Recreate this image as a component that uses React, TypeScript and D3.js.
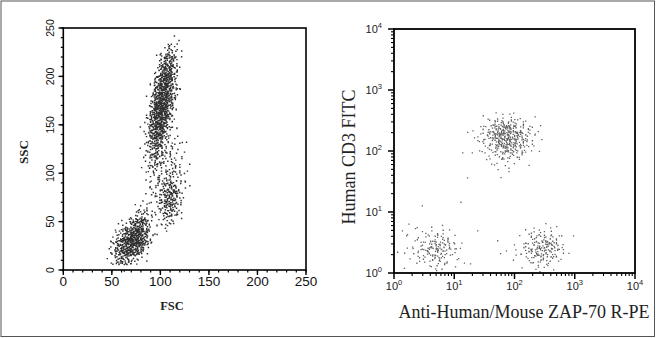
import React from 'react';
import * as d3 from 'd3';

const W = 656;
const H = 338;

// ---------- Left panel: FSC vs SSC event density ----------
// Each row is one 10-unit SSC band (top row = SSC 230-240 ... bottom = 0-10),
// each character is a density level for one 5-unit FSC band starting at FSC 45.
const fscStart = 45;
const fscStep = 5;
const sscTopRow = 230;
const sscStep = 10;
const scatterDensity = [
  '00000000000001100', // 230
  '00000000000144100', // 220
  '00000000001564100', // 210
  '00000000003775100', // 200
  '00000000016874100', // 190
  '00000000028874100', // 180
  '00000000139963000', // 170
  '00000000169952000', // 160
  '00000000279741000', // 150
  '00000001378521000', // 140
  '00000001366321100', // 130
  '00000001255221110', // 120
  '00000001243222110', // 110
  '00000001132222111', // 100
  '00000000121233211', // 90
  '00000000122355210', // 80
  '00000000112466310', // 70
  '00000012111454200', // 60
  '00000234211232100', // 50
  '00124775211110000', // 40
  '02358986310000000', // 30
  '13689963100000000', // 20
  '13565321000000000', // 10
  '00110000000000000', // 0
];
const linearMajor = [0, 50, 100, 150, 200, 250];
const linearMinor = d3.range(0, 251, 10);

// ---------- Right panel: ZAP-70 vs CD3 (log decades) ----------
const decStep = 0.1;
// CD3+ cluster: columns start at 1.2 decades, top row = 2.6 decades
const cd3PosX0 = 1.2;
const cd3PosTop = 2.6;
const cd3PosRows = [
  '00000010000000',
  '00011222111000',
  '00123444321100',
  '01135675432100',
  '11235776542110',
  '01234676532100',
  '00123455431100',
  '00112333221000',
  '00011221110000',
  '00001111000000',
  '00000100000000',
];
// double-negative cluster: columns start at 0.1 decades, top row = 0.7
const dnX0 = 0.1;
const dnTop = 0.7;
const dnRows = [
  '01010111000',
  '00111212100',
  '10122333210',
  '01224444211',
  '11123453210',
  '01122332110',
  '01111221101',
  '00101111000',
];
// ZAP-70+ cluster: columns start at 1.8 decades, top row = 0.7
const zapX0 = 1.8;
const zapTop = 0.7;
const zapRows = [
  '000011111000',
  '000112221100',
  '001123443100',
  '011234554210',
  '101234543201',
  '011123332100',
  '000112221000',
  '000011110000',
];
// isolated events (decades)
const strayX = [1.13, 1.29, 1.21, 1.10, 0.46, 0.13, 1.38, 1.76, 2.97, 2.59, 1.71, 1.26, 1.01, 0.05, 0.2];
const strayY = [1.98, 1.98, 1.57, 1.17, 1.11, 0.70, 0.70, 0.33, 0.62, 0.75, 0.54, 0.16, 0.11, 0.35, 0.62];
const logMajor = [1, 10, 100, 1000, 10000];
const logMinor = d3.range(0, 4).flatMap((d) => d3.range(2, 10).map((k) => k * Math.pow(10, d)));

function halton(i: number, b: number) {
  let f = 1;
  let r = 0;
  let n = i;
  while (n > 0) {
    f /= b;
    r += f * (n % b);
    n = Math.floor(n / b);
  }
  return r;
}

// deterministic placement of a bin's events inside (and slightly around) the bin
function expand(
  rows: string[],
  x0: number,
  xStep: number,
  yTop: number,
  yStep: number,
  count: (l: number) => number,
  seed: number
) {
  const pts: [number, number][] = [];
  rows.forEach((row, r) => {
    row.split('').forEach((ch, c) => {
      const n = count(Number(ch));
      const base = ((r * 7919 + c * 104729 + seed * 31) % 50000) + 1;
      for (let j = 0; j < n; j++) {
        const k = base + j * 17;
        const u = halton(k, 2);
        const v = halton(k, 3);
        pts.push([x0 + (c + u * 1.8 - 0.4) * xStep, yTop - r * yStep + (v * 1.8 - 0.4) * yStep]);
      }
    });
  });
  return pts;
}

const leftCount = (l: number) => Math.round(0.45 * l * l + 1.5 * l);
const rightCount = (l: number) => Math.round(l * (1 + 0.25 * l));

function dotsPath(pts: [number, number][], s: number) {
  return pts.map(([x, y]) => `M${x.toFixed(1)},${y.toFixed(1)}h${s}v${s}h${-s}z`).join('');
}

const sans = 'Liberation Sans, Arial, sans-serif';
const serif = 'Liberation Serif, Times New Roman, serif';

export default function App() {
  // left scales
  const lx = d3.scaleLinear().domain([0, 250]).range([63.3, 306]);
  const ly = d3.scaleLinear().domain([0, 250]).range([270, 28]);
  const leftPts = expand(scatterDensity, fscStart, fscStep, sscTopRow, sscStep, leftCount, 7).map(
    ([x, y]) => [lx(x), ly(y)] as [number, number]
  );

  // right scales
  const rx = d3.scaleLog().domain([1, 10000]).range([394, 635]);
  const ry = d3.scaleLog().domain([1, 10000]).range([273, 29]);
  const toR = ([a, b]: [number, number]) => [rx(Math.pow(10, a)), ry(Math.pow(10, b))] as [number, number];
  const rightPts = [
    ...expand(cd3PosRows, cd3PosX0, decStep, cd3PosTop, decStep, rightCount, 11),
    ...expand(dnRows, dnX0, decStep, dnTop, decStep, rightCount, 900),
    ...expand(zapRows, zapX0, decStep, zapTop, decStep, rightCount, 1500),
    ...strayX.map((x, i) => [x, strayY[i]] as [number, number]),
  ]
    .filter(([a, b]) => a > 0.01 && b > 0.01)
    .map(toR);

  const lxr = lx.range();
  const lyr = ly.range();
  const rxr = rx.range();
  const ryr = ry.range();

  return (
    <svg width={W} height={H} style={{ position: 'absolute', left: 0, top: 0, background: '#fff' }}>
      <rect x={0} y={0} width={W} height={H} fill="#fff" />
      <rect x={1} y={1} width={W - 2.5} height={H - 2.5} fill="none" stroke="#555" strokeWidth={1} />

      {/* ---------- left panel ---------- */}
      <path d={dotsPath(leftPts, 1.45)} fill="#0a0a0a" fillOpacity={0.85} />
      <rect
        x={lxr[0]}
        y={lyr[1]}
        width={lxr[1] - lxr[0]}
        height={lyr[0] - lyr[1]}
        fill="none"
        stroke="#000"
        strokeWidth={1.6}
      />
      {linearMinor.map((v) => (
        <g key={'lm' + v}>
          <line x1={lx(v)} x2={lx(v)} y1={270} y2={272.5} stroke="#000" strokeWidth={1.2} />
          <line x1={63.3} x2={60.8} y1={ly(v)} y2={ly(v)} stroke="#000" strokeWidth={1.2} />
        </g>
      ))}
      {linearMajor.map((v) => (
        <g key={'lM' + v}>
          <line x1={lx(v)} x2={lx(v)} y1={270} y2={275} stroke="#000" strokeWidth={1.4} />
          <line x1={63.3} x2={58.5} y1={ly(v)} y2={ly(v)} stroke="#000" strokeWidth={1.4} />
          <text x={lx(v)} y={286} textAnchor="middle" fontFamily={sans} fontSize={13.5} fill="#111">
            {v}
          </text>
          <text
            transform={`translate(54,${ly(v)}) rotate(-90)`}
            textAnchor="middle"
            fontFamily={sans}
            fontSize={10.5}
            fill="#111"
          >
            {v}
          </text>
        </g>
      ))}
      <text x={172} y={310} textAnchor="middle" fontFamily={serif} fontWeight="bold" fontSize={12.5} fill="#222">
        FSC
      </text>
      <text
        transform="translate(28,152) rotate(-90)"
        textAnchor="middle"
        fontFamily={serif}
        fontWeight="bold"
        fontSize={13}
        fill="#222"
      >
        SSC
      </text>

      {/* ---------- right panel ---------- */}
      <path d={dotsPath(rightPts, 1.3)} fill="#3a3a3a" fillOpacity={0.8} />
      <rect
        x={rxr[0]}
        y={ryr[1]}
        width={rxr[1] - rxr[0]}
        height={ryr[0] - ryr[1]}
        fill="none"
        stroke="#000"
        strokeWidth={1.8}
      />
      {logMinor.map((v) => (
        <g key={'rm' + v}>
          <line x1={rx(v)} x2={rx(v)} y1={273} y2={276} stroke="#000" strokeWidth={1.1} />
          <line x1={394} x2={391} y1={ry(v)} y2={ry(v)} stroke="#000" strokeWidth={1.1} />
        </g>
      ))}
      {logMajor.map((v, i) => (
        <g key={'rM' + v}>
          <line x1={rx(v)} x2={rx(v)} y1={273} y2={279} stroke="#000" strokeWidth={1.5} />
          <line x1={394} x2={388} y1={ry(v)} y2={ry(v)} stroke="#000" strokeWidth={1.5} />
          <text x={rx(v)} y={290} textAnchor="middle" fontFamily={sans} fontSize={11} fill="#222">
            10
            <tspan dy={-5} fontSize={7.5}>
              {i}
            </tspan>
          </text>
          <text x={382} y={ry(v) + 4} textAnchor="end" fontFamily={sans} fontSize={11} fill="#222">
            10
            <tspan dy={-5} fontSize={7.5}>
              {i}
            </tspan>
          </text>
        </g>
      ))}
      <text x={524} y={318} textAnchor="middle" fontFamily={serif} fontSize={18} fill="#222">
        Anti-Human/Mouse ZAP-70 R-PE
      </text>
      <text
        transform="translate(355,157) rotate(-90)"
        textAnchor="middle"
        fontFamily={serif}
        fontSize={18}
        fill="#222"
      >
        Human CD3 FITC
      </text>
    </svg>
  );
}
